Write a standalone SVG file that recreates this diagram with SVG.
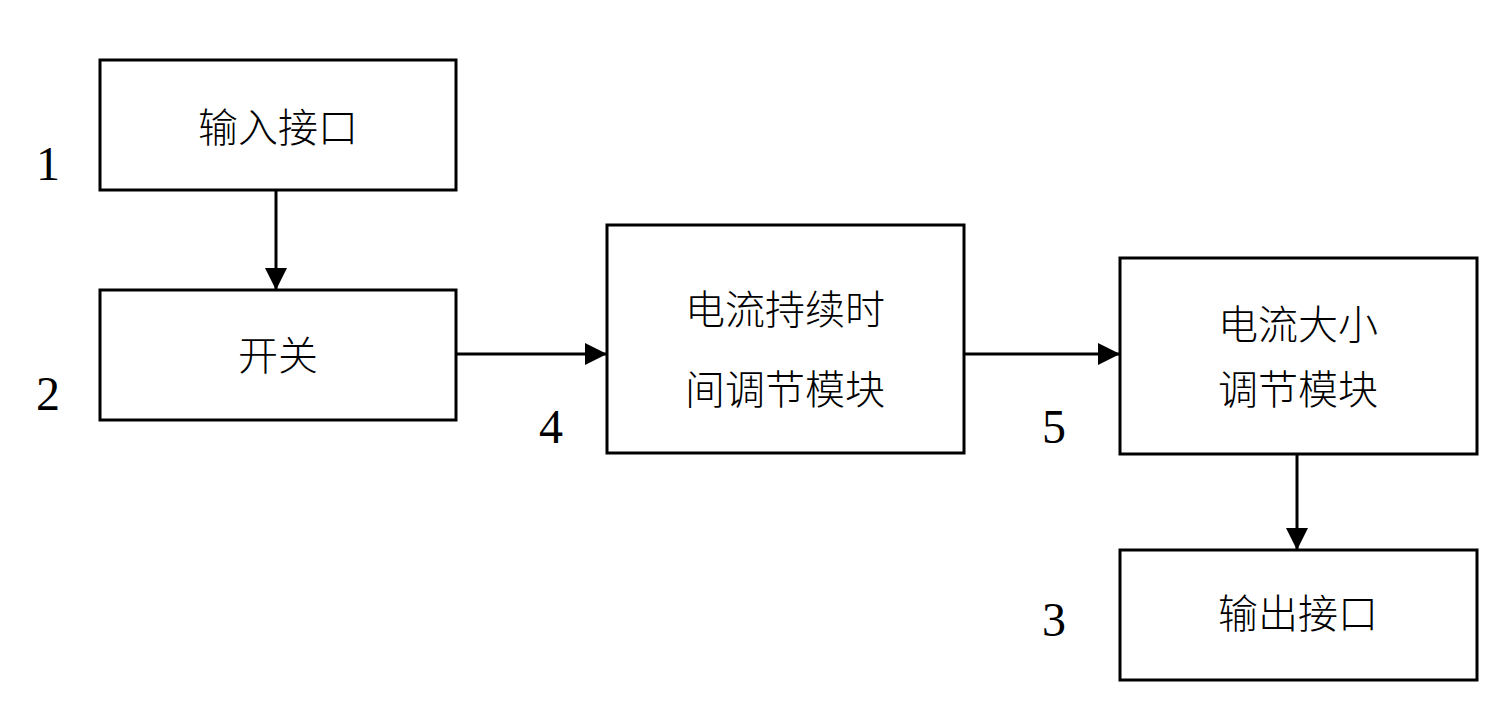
<svg xmlns="http://www.w3.org/2000/svg" width="1502" height="718" viewBox="0 0 1502 718">
<style>
.box{fill:#fff;stroke:#000;stroke-width:3}
.t{font-family:"Liberation Serif","Noto Sans CJK SC",serif;font-size:40px;font-weight:300;text-anchor:middle;fill:#000}
.n{font-family:"Liberation Serif",serif;font-size:48px;text-anchor:middle;fill:#000}
.c{stroke:#000;stroke-width:3;fill:none;marker-end:url(#a)}
</style>
<defs><marker id="a" viewBox="0 0 10 10" refX="10" refY="5" markerWidth="22" markerHeight="22" markerUnits="userSpaceOnUse" orient="auto"><path d="M0,0L10,5L0,10z"/></marker></defs>
<rect width="1502" height="718" fill="#fff"/>
<g id="n1"><rect class="box" x="100" y="60" width="356" height="130"/><text class="t" x="278" y="142">输入接口</text></g>
<g id="n2"><rect class="box" x="100" y="290" width="356" height="130"/><text class="t" x="278" y="370">开关</text></g>
<g id="n4"><rect class="box" x="607" y="225" width="357" height="228"/><text class="t" x="785" y="324">电流持续时</text><text class="t" x="785" y="404">间调节模块</text></g>
<g id="n5"><rect class="box" x="1120" y="258" width="357" height="196"/><text class="t" x="1298" y="339">电流大小</text><text class="t" x="1298" y="404">调节模块</text></g>
<g id="n3"><rect class="box" x="1120" y="550" width="357" height="130"/><text class="t" x="1298" y="628">输出接口</text></g>
<g id="labels"><text class="n" x="48" y="180">1</text><text class="n" x="48" y="410">2</text><text class="n" x="551" y="443">4</text><text class="n" x="1054" y="443">5</text><text class="n" x="1054" y="636">3</text></g>
<g id="connectors">
<path class="c" d="M276,190V290"/>
<path class="c" d="M456,354H607"/>
<path class="c" d="M964,354H1120"/>
<path class="c" d="M1297,454V550"/>
</g>
</svg>
